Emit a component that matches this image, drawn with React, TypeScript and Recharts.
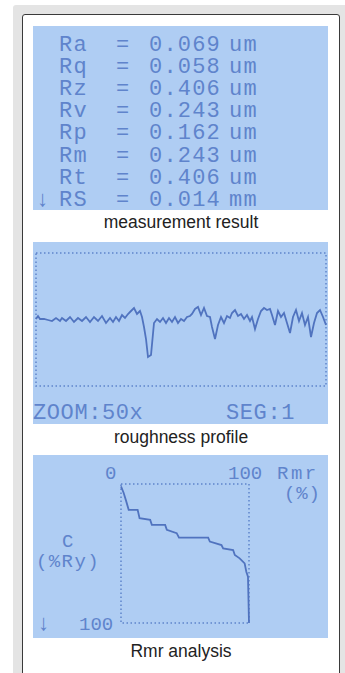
import React from "react";
import { LineChart, Line, XAxis, YAxis, ReferenceArea } from "recharts";

// ---- measurement result panel ----
const paramNames = ["Ra", "Rq", "Rz", "Rv", "Rp", "Rm", "Rt", "RS"];
const paramValues = ["0.069", "0.058", "0.406", "0.243", "0.162", "0.243", "0.406", "0.014"];
const paramUnits = ["um", "um", "um", "um", "um", "um", "um", "mm"];

// ---- roughness profile (position along trace, height) ----
const profileX = [0, 2, 4, 8, 12, 16, 20, 24, 26, 30, 34, 38, 42, 46, 50, 54, 58, 62, 66, 70, 74, 77, 80, 83, 86, 89, 92, 95, 98, 101, 104, 106, 108, 110, 112, 115, 118, 121, 124, 127, 130, 133, 136, 139, 142, 145, 148, 151, 154, 156, 159, 162, 165, 168, 171, 174, 176, 179, 182, 185, 188, 191, 194, 196, 199, 202, 205, 208, 211, 214, 216, 219, 222, 225, 228, 231, 234, 236, 239, 242, 245, 248, 251, 254, 257, 260, 263, 266, 269, 272, 275, 278, 281, 284, 287, 290];
const profileY = [0, 3, 0, 0, -1, -2, 1, -2, 1, -2, 2, -3, 1, -2, 2, -3, 2, -2, 3, -4, 1, -3, 2, -2, 4, 1, 5, 8, 11, 5, 8, 2, -8, -20, -38, -36, -4, 0, -3, 1, -4, 1, -3, 2, -4, 0, -2, 2, 3, 5, 10, 12, 4, 11, 3, 2, -8, -20, -6, 2, -4, 3, 1, 6, 9, 3, 5, 0, 4, -2, 2, -10, 0, 8, 11, 9, 10, 4, -6, 8, 2, 6, -4, -14, 2, 9, -2, 6, -6, 2, -18, -4, 6, 9, 2, -6];

// ---- Rmr analysis (material ratio %, cut depth %Ry) ----
const rmrPct = [0, 2.1, 4.1, 6.0, 13.0, 14.5, 22.8, 24.1, 34.5, 35.8, 43.5, 45.3, 68.1, 69.4, 78.5, 79.8, 87.6, 88.9, 92.7, 96.6, 97.9, 99.2, 100];
const cutDepth = [1.7, 6.5, 12.5, 18.6, 18.6, 24.6, 25.8, 29.4, 29.4, 33.0, 35.4, 38.6, 38.6, 41.4, 43.9, 46.3, 47.5, 51.1, 53.5, 57.1, 63.1, 66.7, 100];

const profileData = profileX.map((x, i) => ({ x, y: profileY[i] }));
const rmrData = rmrPct.map((x, i) => ({ x, c: cutDepth[i] }));

const LCD_BG = "#afcdf3";
const LCD_INK = "#5f84cc";
const LCD_LINE = "#5073bf";
const LCD_FONT = "'Liberation Mono', 'DejaVu Sans Mono', monospace";

const panel = (top: number, height: number): React.CSSProperties => ({
  position: "absolute",
  left: 33,
  top,
  width: 295,
  height,
  background: LCD_BG,
});

const caption = (top: number): React.CSSProperties => ({
  position: "absolute",
  left: 23,
  width: 316,
  top,
  textAlign: "center",
  fontFamily: "'Liberation Sans', Arial, sans-serif",
  fontSize: 17.5,
  color: "#222",
  lineHeight: "20px",
});

export default function App() {
  return (
    <div style={{ position: "absolute", left: 0, top: 0, width: 345, height: 673, background: "#fff", overflow: "hidden" }}>
      <div style={{ position: "absolute", left: 13, top: 5, width: 340, height: 700, background: "#e4e4e4", borderRadius: 3 }} />
      <div style={{ position: "absolute", left: 22, top: 14, width: 316, height: 700, background: "#fff", border: "1px solid #3a3a3a", borderRadius: 3 }} />

      {/* Panel 1: measurement result */}
      <div style={panel(26, 184)}>
        <svg width={295} height={184} style={{ display: "block", overflow: "visible" }}>
          {paramNames.map((n, i) => {
            const y = 24.5 + i * 22.2;
            return (
              <g key={n} fill={LCD_INK} fontFamily={LCD_FONT} fontSize={22} letterSpacing={1.2}>
                {i === paramNames.length - 1 && <text x={3} y={y}>↓</text>}
                <text x={26} y={y}>{n}</text>
                <text x={83} y={y}>=</text>
                <text x={116} y={y}>{paramValues[i]}</text>
                <text x={196} y={y}>{paramUnits[i]}</text>
              </g>
            );
          })}
        </svg>
      </div>
      <div style={caption(212)}>measurement result</div>

      {/* Panel 2: roughness profile */}
      <div style={panel(242, 182)}>
        <LineChart width={295} height={182} data={profileData} margin={{ top: 11, right: 2, bottom: 38, left: 3 }}>
          <XAxis dataKey="x" type="number" domain={[0, 290]} hide />
          <YAxis type="number" domain={[-67, 66]} hide />
          <ReferenceArea x1={0} x2={290} y1={-67} y2={66} fill="none" stroke={LCD_INK} strokeWidth={1.5} strokeDasharray="1.5 2.5" ifOverflow="extendDomain" />
          <Line dataKey="y" type="linear" stroke={LCD_LINE} strokeWidth={1.8} dot={false} isAnimationActive={false} />
        </LineChart>
        <svg width={295} height={182} style={{ position: "absolute", left: 0, top: 0, overflow: "visible" }}>
          <text x={0} y={177} fill={LCD_INK} fontFamily={LCD_FONT} fontSize={22} letterSpacing={0.6}>ZOOM:50x</text>
          <text x={193} y={177} fill={LCD_INK} fontFamily={LCD_FONT} fontSize={22} letterSpacing={0.6}>SEG:1</text>
        </svg>
      </div>
      <div style={caption(427)}>roughness profile</div>

      {/* Panel 3: Rmr analysis */}
      <div style={panel(455, 183)}>
        <LineChart width={295} height={183} data={rmrData} margin={{ top: 29, right: 79, bottom: 15, left: 88 }}>
          <XAxis dataKey="x" type="number" domain={[0, 100]} hide />
          <YAxis type="number" domain={[0, 100]} reversed hide />
          <ReferenceArea x1={0} x2={100} y1={0} y2={100} fill="none" stroke={LCD_INK} strokeWidth={1.5} strokeDasharray="1.5 2.5" />
          <Line dataKey="c" type="linear" stroke={LCD_LINE} strokeWidth={1.8} dot={false} isAnimationActive={false} />
        </LineChart>
        <svg width={295} height={183} style={{ position: "absolute", left: 0, top: 0, overflow: "visible" }}>
          <g fill={LCD_INK} fontFamily={LCD_FONT} fontSize={19}>
            <text x={72} y={24}>0</text>
            <text x={195} y={24}>100</text>
            <text x={244} y={24} letterSpacing={2.5}>Rmr</text>
            <text x={251} y={44} letterSpacing={0.8}>(%)</text>
            <text x={29} y={92}>C</text>
            <text x={3} y={112} letterSpacing={1.4}>(%Ry)</text>
            <text x={4} y={175} fontSize={22}>↓</text>
            <text x={46} y={175}>100</text>
          </g>
        </svg>
      </div>
      <div style={caption(641)}>Rmr analysis</div>
    </div>
  );
}
